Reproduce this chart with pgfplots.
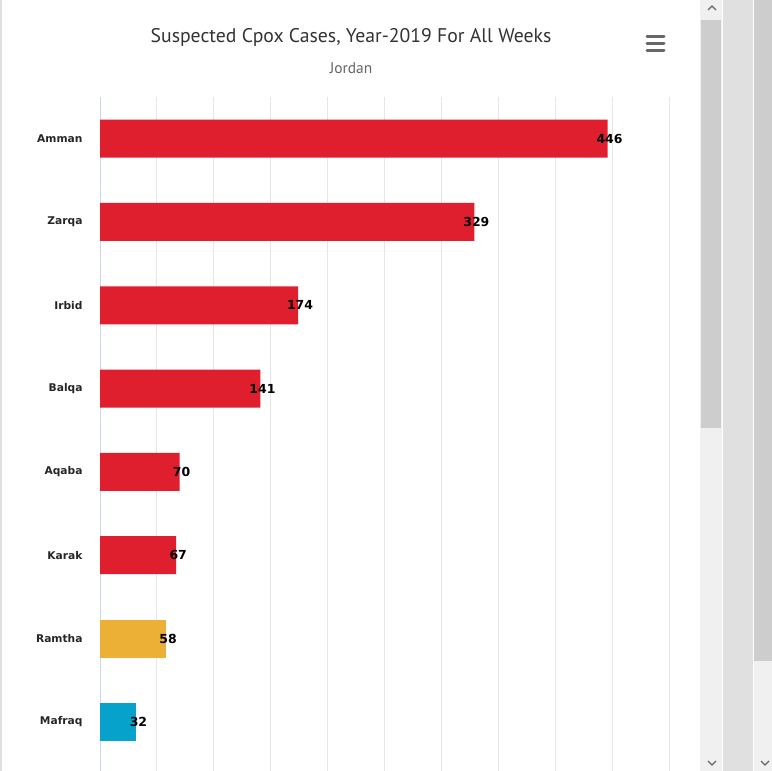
\documentclass[border=0pt]{standalone}
\usepackage{fontspec}
\setmainfont{DejaVu Sans}
\newfontfamily\ptsans{PT Sans}
\usepackage{pgfplots}
\pgfplotsset{compat=1.18}

\definecolor{barred}{HTML}{DF1F2E}
\definecolor{barorange}{HTML}{ECB037}
\definecolor{barblue}{HTML}{06A2CB}
\definecolor{gridgray}{HTML}{E6E6E6}
\definecolor{axisblue}{HTML}{CCD6EB}
\definecolor{titlegray}{HTML}{333333}
\definecolor{subgray}{HTML}{666666}
\definecolor{trackgray}{HTML}{F0F0F0}
\definecolor{thumbgray}{HTML}{CDCDCD}
\definecolor{gapgray}{HTML}{E0E0E0}

\begin{document}
\begin{tikzpicture}
% page background and frame
\fill[white] (0,0) rectangle (772bp,-771bp);
\draw[gapgray, line width=1.5bp] (1bp,0) -- (1bp,-771bp);

\begin{axis}[
    at={(100bp,-771bp)}, anchor=south west,
    scale only axis, width=569bp, height=674bp,
    xbar, bar width=38bp, bar shift=0pt,
    xmin=0, xmax=500,
    ymin=-0.5, ymax=7.59, y dir=reverse,
    axis line style={draw=none},
    xtick={50,100,...,500}, xticklabels={},
    extra x ticks={0}, extra x tick labels={},
    extra x tick style={grid style={draw=axisblue, line width=1bp}},
    xmajorgrids, grid style={draw=gridgray, line width=1bp},
    major tick length=0pt,
    ytick={0,...,7},
    yticklabels={Amman,Zarqa,Irbid,Balqa,Aqaba,Karak,Ramtha,Mafraq},
    y tick label style={font=\bfseries\fontsize{10.7}{12}\selectfont, text=black!85, xshift=-14bp},
    point meta=x,
    /pgf/number format/assume math mode=true,
    nodes near coords,
    every node near coord/.append style={anchor=center, xshift=2bp, font=\bfseries\fontsize{12.5}{14}\selectfont, text=black},
    clip=false,
]
\addplot[fill=barred, draw=none] coordinates {
    (446,0) (329,1) (174,2) (141,3) (70,4) (67,5)
};
\addplot[fill=barorange, draw=none] coordinates {(58,6)};
\addplot[fill=barblue, draw=none] coordinates {(32,7)};
\end{axis}

\begin{scope}[x=1bp, y=-1bp]
% title block
\node[font=\ptsans\fontsize{19.8}{24}\selectfont, text=titlegray] at (351,37) {Suspected Cpox Cases, Year-2019 For All Weeks};
\node[font=\ptsans\fontsize{15.5}{18}\selectfont, text=subgray] at (351,68) {Jordan};
% menu icon
\foreach \yy in {36,43,50}
  \draw[subgray, line width=3bp, line cap=round] (647,\yy) -- (664,\yy);
% inner scrollbar
\fill[trackgray] (700,0) rectangle (722,771);
\fill[thumbgray] (701,20) rectangle (721,428);
\draw[subgray, line width=1.3bp] (708,10) -- (712,6) -- (716,10);
\draw[subgray, line width=1.3bp] (708,761) -- (712,765) -- (716,761);
% gap
\fill[gapgray] (723,0) rectangle (753,771);
% outer scrollbar
\fill[trackgray] (754,0) rectangle (772,771);
\fill[thumbgray] (754,0) rectangle (772,661);
\draw[subgray, line width=1.3bp] (761,761) -- (765,765) -- (769,761);
\end{scope}

\pgfresetboundingbox
\path (0,0) rectangle (772bp,-771bp);
\end{tikzpicture}
\end{document}
